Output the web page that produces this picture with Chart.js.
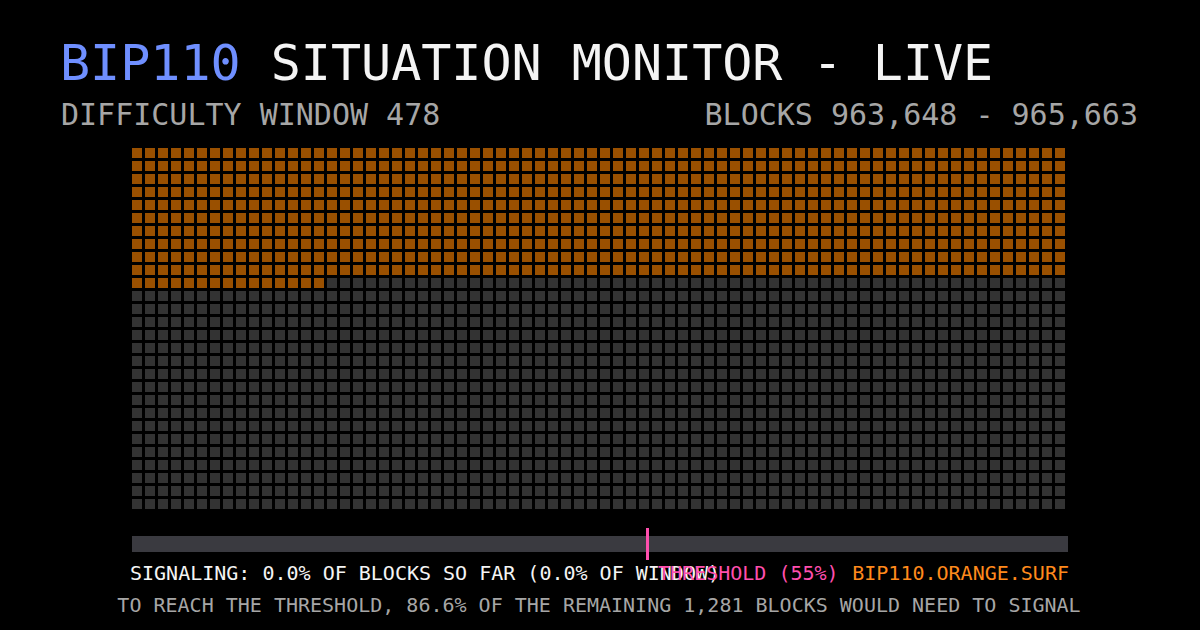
<!DOCTYPE html>
<html>
<head>
<meta charset="utf-8">
<script src="https://cdn.jsdelivr.net/npm/chart.js@4.4.1/dist/chart.umd.min.js"></script>
<style>
  html, body { margin: 0; padding: 0; background: #000; }
  body { width: 1200px; height: 630px; position: relative; overflow: hidden;
         font-family: "DejaVu Sans Mono", "Liberation Mono", monospace; }
  .txt { position: absolute; white-space: pre; line-height: 1; }
  #title { left: 60px; top: 38px; font-size: 50px; color: #f4f4f4; }
  #title .hl { color: #6f8fff; }
  #subLeft { left: 61px; top: 100px; font-size: 30px; color: #a6a6a6; }
  #subRight { right: 62px; top: 100px; font-size: 30px; color: #a6a6a6; }
  #grid { position: absolute; left: 131px; top: 147px; width: 936px; height: 364px; }
  #bar { position: absolute; left: 132px; top: 528px; width: 936px; height: 32px; }
  #sig { left: 130px; top: 563px; font-size: 20px; color: #f4f4f4; }
  #thr { left: 658px; top: 563px; font-size: 20px; color: #ff4fae; }
  #site { right: 131px; top: 563px; font-size: 20px; color: #ff8a1c; }
  #need { left: 0; width: 1198px; text-align: center; top: 595px; font-size: 20px; color: #a6a6a6; }
</style>
</head>
<body>
<div class="txt" id="title"><span class="hl">BIP110</span> SITUATION MONITOR - LIVE</div>
<div class="txt" id="subLeft">DIFFICULTY WINDOW 478</div>
<div class="txt" id="subRight">BLOCKS 963,648 - 965,663</div>
<div id="grid"><canvas id="gridCanvas"></canvas></div>
<div id="bar"><canvas id="barCanvas"></canvas></div>
<div class="txt" id="sig">SIGNALING: 0.0% OF BLOCKS SO FAR (0.0% OF WINDOW)</div>
<div class="txt" id="thr">THRESHOLD (55%)</div>
<div class="txt" id="site">BIP110.ORANGE.SURF</div>
<div class="txt" id="need">TO REACH THE THRESHOLD, 86.6% OF THE REMAINING 1,281 BLOCKS WOULD NEED TO SIGNAL</div>

<script>
// Block states in the current 2016-block difficulty window
const statusLabels = ["Signaling", "Mined, not signaling", "Not yet mined"]
const statusCounts = [0, 735, 1281]
const statusColors = ["#ff8a1c", "#9a5000", "#333333"]

// Window share of signaling blocks vs. activation threshold (percent)
const barLabels = ["Window"]
const signalingPct = [0.0]
const thresholdPct = 55

const COLS = 72
const ROWS = 28

// one point per block, laid out row by row
const datasets = []
let blockIndex = 0
statusLabels.forEach((label, s) => {
  const points = []
  for (let n = 0; n < statusCounts[s]; n++) {
    points.push({ x: blockIndex % COLS, y: Math.floor(blockIndex / COLS) })
    blockIndex++
  }
  datasets.push({
    label,
    data: points,
    pointStyle: "rect",
    pointRadius: 10 / (2 * Math.SQRT1_2),
    pointHoverRadius: 10 / (2 * Math.SQRT1_2),
    pointBorderWidth: 0,
    backgroundColor: statusColors[s],
    borderColor: statusColors[s]
  })
})

// half a cell minus the gap, so squares land on whole pixels
const off = 6 / 13
new Chart(document.getElementById("gridCanvas"), {
  type: "scatter",
  data: { datasets },
  options: {
    responsive: true,
    maintainAspectRatio: false,
    animation: false,
    devicePixelRatio: 1,
    layout: { padding: 0, autoPadding: false },
    plugins: { legend: { display: false }, tooltip: { enabled: false } },
    scales: {
      x: { type: "linear", display: false, min: -off, max: COLS - off },
      y: { type: "linear", display: false, reverse: true, min: -off, max: ROWS - off }
    }
  }
})

// pink threshold tick across the progress bar
const thresholdLine = {
  id: "thresholdLine",
  afterDatasetsDraw(chart) {
    const { ctx, chartArea, scales } = chart
    const x = Math.round(scales.x.getPixelForValue(thresholdPct))
    ctx.save()
    ctx.fillStyle = "#ff4fae"
    ctx.fillRect(x - 1, chartArea.top, 3, chartArea.bottom - chartArea.top)
    ctx.restore()
  }
}

new Chart(document.getElementById("barCanvas"), {
  type: "bar",
  data: {
    labels: barLabels,
    datasets: [
      { label: "Signaling", data: signalingPct, backgroundColor: "#ff8a1c", borderWidth: 0 },
      { label: "Rest", data: signalingPct.map(v => 100 - v), backgroundColor: "#3a3a40", borderWidth: 0 }
    ]
  },
  options: {
    indexAxis: "y",
    responsive: true,
    maintainAspectRatio: false,
    animation: false,
    devicePixelRatio: 1,
    layout: { padding: 0, autoPadding: false },
    datasets: { bar: { categoryPercentage: 1, barPercentage: 0.5 } },
    plugins: { legend: { display: false }, tooltip: { enabled: false } },
    scales: {
      x: { stacked: true, display: false, min: 0, max: 100 },
      y: { stacked: true, display: false }
    }
  },
  plugins: [thresholdLine]
})
</script>
</body>
</html>
